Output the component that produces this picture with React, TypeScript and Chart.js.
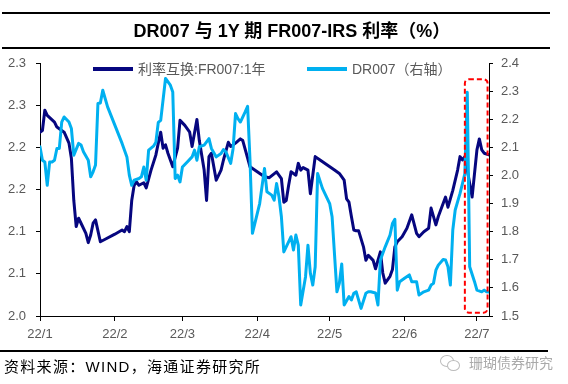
import React, { useEffect, useRef } from "react";
import { Chart, registerables } from "chart.js";

Chart.register(...registerables);

// ---- data ----
const irsDates = [
  "01-04","01-05","01-06","01-07","01-10","01-11","01-13","01-14","01-16","01-17",
  "01-18","01-19","01-20","01-21","01-23","01-24","01-25","01-26","01-27","01-29",
  "01-31","02-04","02-07","02-08","02-09","02-10","02-11","02-12","02-13","02-14",
  "02-16","02-17","02-19","02-21","02-22","02-23","02-24","02-25","02-26","02-28",
  "03-02","03-03","03-05","03-07","03-08","03-10","03-11","03-13","03-14","03-15",
  "03-16","03-18","03-20","03-21","03-23","03-24","03-26","03-28","03-29","04-01",
  "04-04","04-07","04-09","04-12","04-14","04-15","04-16","04-17","04-18","04-20",
  "04-21","04-22","04-23","04-25","04-26","04-28","04-30","05-03","05-06","05-08",
  "05-10","05-11","05-12","05-13","05-14","05-15","05-16","05-18","05-19","05-20",
  "05-22","05-23","05-25","05-26","05-27","05-29","05-30","05-31","06-01","06-03",
  "06-05","06-07","06-09","06-10","06-12","06-14","06-15","06-17","06-18","06-21",
  "06-22","06-24","06-26","06-27","06-28","06-29","07-02","07-04","07-05","07-06",
  "07-07","07-09"
];
const irsValues = [
  2.218,2.220,2.244,2.238,2.230,2.224,2.220,2.218,2.205,2.187,
  2.137,2.106,2.116,2.110,2.098,2.087,2.096,2.110,2.114,2.088,
  2.091,2.097,2.102,2.100,2.106,2.100,2.137,2.155,2.159,2.155,
  2.158,2.152,2.173,2.191,2.205,2.218,2.199,2.203,2.193,2.177,
  2.199,2.232,2.226,2.218,2.201,2.233,2.208,2.173,2.137,2.189,
  2.193,2.161,2.173,2.185,2.206,2.201,2.205,2.210,2.208,2.177,
  2.171,2.165,2.164,2.171,2.163,2.135,2.137,2.155,2.171,2.167,
  2.181,2.173,2.176,2.173,2.145,2.189,2.185,2.179,2.173,2.169,
  2.161,2.139,2.135,2.118,2.102,2.101,2.101,2.082,2.066,2.072,
  2.066,2.056,2.076,2.051,2.039,2.047,2.055,2.082,2.088,2.094,
  2.104,2.120,2.098,2.094,2.100,2.104,2.128,2.108,2.118,2.141,
  2.129,2.149,2.173,2.189,2.185,2.189,2.141,2.197,2.210,2.197,
  2.193,2.191
];
const drDates = [
  "01-04","01-05","01-06","01-07","01-08","01-09","01-10","01-11","01-12","01-13",
  "01-14","01-16","01-17","01-18","01-20","01-21","01-22","01-24","01-25","01-26",
  "01-27","01-28","01-29","01-30","02-01","02-04","02-07","02-09","02-10","02-11",
  "02-12","02-14","02-15","02-16","02-17","02-18","02-20","02-21","02-22","02-23",
  "02-25","02-27","02-28","03-01","03-02","03-03","03-04","03-06","03-08","03-09",
  "03-10","03-11","03-13","03-15","03-16","03-18","03-20","03-21","03-22","03-24",
  "03-25","03-26","03-27","03-28","03-30","03-31","04-01","04-02","04-05","04-07",
  "04-08","04-10","04-11","04-12","04-13","04-14","04-15","04-16","04-18","04-19",
  "04-20","04-21","04-22","04-24","04-25","04-26","04-27","04-28","04-29","05-01",
  "05-04","05-05","05-07","05-08","05-09","05-10","05-12","05-13","05-14","05-15",
  "05-17","05-19","05-20","05-21","05-23","05-24","05-25","05-27","05-29","05-30",
  "05-31","06-01","06-02","06-04","06-06","06-07","06-09","06-10","06-12","06-14",
  "06-15","06-16","06-17","06-18","06-20","06-21","06-22","06-23","06-24","06-25",
  "06-27","06-28","06-29","06-30","07-01","07-03","07-04","07-06","07-07","07-08",
  "07-09"
];
const drValues = [
  2.102,2.054,2.048,1.965,2.048,2.048,2.054,2.096,2.096,2.190,
  2.208,2.190,2.167,2.072,2.114,2.108,2.084,2.054,1.995,2.013,
  2.037,2.256,2.258,2.303,2.244,2.179,2.114,2.066,2.001,1.965,
  1.983,1.989,1.995,2.030,1.983,2.090,2.104,2.118,2.189,2.196,
  2.345,2.321,2.297,1.989,2.001,1.977,2.030,2.048,2.066,2.090,
  2.054,2.102,2.108,2.131,2.096,2.066,2.078,2.092,2.084,2.043,
  2.096,2.220,2.202,2.190,2.226,2.246,2.054,1.794,1.900,2.025,
  1.942,1.930,1.912,1.971,1.924,1.853,1.728,1.746,1.782,1.735,
  1.788,1.752,1.539,1.640,1.752,1.652,1.610,1.675,2.007,1.954,
  1.900,1.853,1.586,1.616,1.685,1.539,1.569,1.557,1.581,1.586,
  1.527,1.581,1.586,1.586,1.582,1.539,1.699,1.746,1.788,1.829,
  1.844,1.592,1.622,1.634,1.646,1.622,1.622,1.575,1.586,1.592,
  1.610,1.616,1.663,1.681,1.701,1.699,1.675,1.610,1.806,1.877,
  1.936,1.971,2.007,2.296,1.675,1.622,1.592,1.586,1.592,1.586,
  1.585
];
const seriesNames = ["利率互换:FR007:1年", "DR007（右轴）"];
const axisStart = "01-04";
const axisEnd = "07-09";
const xTickDates = ["01-04", "02-04", "03-04", "04-04", "05-04", "06-04", "07-04"];
const xTickLabels = ["22/1", "22/2", "22/3", "22/4", "22/5", "22/6", "22/7"];
const leftTickValues = [2.0, 2.05, 2.1, 2.15, 2.2, 2.25, 2.3];
const leftTickLabels = ["2.0", "2.1", "2.1", "2.2", "2.2", "2.3", "2.3"];
const rightTickValues = [1.5, 1.6, 1.7, 1.8, 1.9, 2.0, 2.1, 2.2, 2.3, 2.4];
const rightTickLabels = ["1.5", "1.6", "1.7", "1.8", "1.9", "2.0", "2.1", "2.2", "2.3", "2.4"];
const highlightDates = ["06-29", "07-08"];
const highlightRange = [1.512, 2.342];

const titleText = "DR007 与 1Y 期 FR007-IRS 利率（%）";
const sourceText = "资料来源：WIND，海通证券研究所";
const watermarkText = "珊瑚债券研究";

// ---- helpers ----
const dayOf = (md: string) => {
  const [m, d] = md.split("-").map(Number);
  const [m0, d0] = axisStart.split("-").map(Number);
  return (Date.UTC(2022, m - 1, d) - Date.UTC(2022, m0 - 1, d0)) / 86400000;
};

const NAVY = "#06067f";
const SKY = "#00b0f0";
const TICK_COLOR = "#595959";
const TICK_FONT = { family: "'Liberation Sans', Arial, sans-serif", size: 13 };

const insideLegend = {
  id: "insideLegend",
  afterDraw(chart: any, _args: any, opts: any) {
    const ctx = chart.ctx;
    ctx.save();
    chart.data.datasets.forEach((ds: any, i: number) => {
      const p = opts.items[i];
      ctx.strokeStyle = ds.borderColor;
      ctx.lineWidth = opts.lineWidth;
      ctx.lineCap = "butt";
      ctx.beginPath();
      ctx.moveTo(p.x, p.y);
      ctx.lineTo(p.x + opts.sampleWidth, p.y);
      ctx.stroke();
      ctx.fillStyle = opts.color;
      ctx.font = opts.font;
      ctx.textBaseline = "middle";
      ctx.textAlign = "left";
      ctx.fillText(ds.label, p.x + opts.sampleWidth + opts.gap, p.y + 1);
    });
    ctx.restore();
  },
};

const highlightBox = {
  id: "highlightBox",
  afterDatasetsDraw(chart: any) {
    const xs = chart.scales.x;
    const ys = chart.scales.y1;
    const x0 = xs.getPixelForValue(dayOf(highlightDates[0]));
    const x1 = xs.getPixelForValue(dayOf(highlightDates[1])) + 1;
    const yTop = ys.getPixelForValue(highlightRange[1]);
    const yBot = ys.getPixelForValue(highlightRange[0]);
    const ctx = chart.ctx;
    ctx.save();
    ctx.strokeStyle = "#ff0000";
    ctx.lineWidth = 2;
    ctx.setLineDash([5, 3]);
    ctx.beginPath();
    if (ctx.roundRect) ctx.roundRect(x0, yTop, x1 - x0, yBot - yTop, 4);
    else ctx.rect(x0, yTop, x1 - x0, yBot - yTop);
    ctx.stroke();
    ctx.restore();
  },
};

function ChartCanvas() {
  const ref = useRef<HTMLCanvasElement | null>(null);
  useEffect(() => {
    if (!ref.current) return;
    const chart = new Chart(ref.current, {
      type: "line",
      data: {
        datasets: [
          {
            label: seriesNames[0],
            data: irsDates.map((d, i) => ({ x: dayOf(d), y: irsValues[i] })),
            borderColor: NAVY,
            backgroundColor: NAVY,
            borderWidth: 3,
            yAxisID: "y",
            order: 1,
          },
          {
            label: seriesNames[1],
            data: drDates.map((d, i) => ({ x: dayOf(d), y: drValues[i] })),
            borderColor: SKY,
            backgroundColor: SKY,
            borderWidth: 3,
            yAxisID: "y1",
            order: 0,
          },
        ],
      },
      options: {
        responsive: false,
        animation: false,
        devicePixelRatio: 1,
        layout: { padding: { top: 63, left: 0, right: 0, bottom: 0 } },
        elements: {
          point: { radius: 0, hoverRadius: 0 },
          line: { tension: 0, borderJoinStyle: "round", borderCapStyle: "round" },
        },
        plugins: {
          legend: { display: false },
          tooltip: { enabled: false },
          insideLegend: {
            items: [
              { x: 93, y: 69 },
              { x: 307, y: 69 },
            ],
            sampleWidth: 40,
            lineWidth: 4,
            gap: 5,
            color: "#595959",
            font: "14px 'Liberation Sans', 'Noto Sans CJK SC', sans-serif",
          },
        } as any,
        scales: {
          x: {
            type: "linear",
            min: 0,
            max: dayOf(axisEnd),
            afterBuildTicks: (s: any) => {
              s.ticks = xTickDates.map((d) => ({ value: dayOf(d) }));
            },
            afterFit: (s: any) => {
              s.height = 68;
            },
            ticks: {
              autoSkip: false,
              maxRotation: 0,
              color: TICK_COLOR,
              font: TICK_FONT,
              padding: 6,
              callback: (_v: any, i: number) => xTickLabels[i],
            },
            grid: { drawOnChartArea: false, tickLength: 5, color: "#000" },
            border: { color: "#000", width: 1 },
          },
          y: {
            position: "left",
            min: 2.0,
            max: 2.3,
            afterBuildTicks: (s: any) => {
              s.ticks = leftTickValues.map((v) => ({ value: v }));
            },
            afterFit: (s: any) => {
              s.width = 40;
            },
            ticks: {
              color: TICK_COLOR,
              font: TICK_FONT,
              padding: 10,
              callback: (_v: any, i: number) => leftTickLabels[i],
            },
            grid: { drawOnChartArea: false, tickLength: 4, color: "#000" },
            border: { color: "#000", width: 1 },
          },
          y1: {
            position: "right",
            min: 1.5,
            max: 2.4,
            afterBuildTicks: (s: any) => {
              s.ticks = rightTickValues.map((v) => ({ value: v }));
            },
            afterFit: (s: any) => {
              s.width = 79;
            },
            ticks: {
              color: TICK_COLOR,
              font: TICK_FONT,
              padding: 8,
              callback: (_v: any, i: number) => rightTickLabels[i],
            },
            grid: { drawOnChartArea: false, tickLength: 4, color: "#000" },
            border: { color: "#000", width: 1 },
          },
        },
      } as any,
      plugins: [insideLegend, highlightBox],
    });
    return () => chart.destroy();
  }, []);
  return (
    <canvas
      ref={ref}
      width={568}
      height={384}
      style={{ position: "absolute", left: 0, top: 0, width: 568, height: 384, display: "block" }}
    />
  );
}

export default function App() {
  const cjk = "'Liberation Sans', Arial, 'Noto Sans CJK SC', sans-serif";
  return (
    <div
      style={{
        position: "absolute",
        left: 0,
        top: 0,
        width: 568,
        height: 384,
        background: "#fff",
        overflow: "hidden",
        fontFamily: cjk,
      }}
    >
      <ChartCanvas />
      <div style={{ position: "absolute", left: 2, top: 12, width: 548, height: 2, background: "#000" }} />
      <div
        style={{
          position: "absolute",
          left: 0,
          top: 21,
          width: 584,
          textAlign: "center",
          fontWeight: "bold",
          fontSize: 18,
          lineHeight: "20px",
          color: "#000",
          whiteSpace: "nowrap",
        }}
      >
        {titleText}
      </div>
      <div style={{ position: "absolute", left: 2, top: 47, width: 548, height: 2, background: "#000" }} />
      <div style={{ position: "absolute", left: 0, top: 350, width: 548, height: 2, background: "#000" }} />
      <div
        style={{
          position: "absolute",
          left: 4,
          top: 357,
          fontSize: 15,
          lineHeight: "20px",
          letterSpacing: "1.3px",
          color: "#000",
          whiteSpace: "nowrap",
        }}
      >
        {sourceText}
      </div>
      <div
        style={{
          position: "absolute",
          left: 440,
          top: 355,
          width: 20,
          height: 16,
          color: "#bbb",
        }}
      >
        <div style={{ position: "absolute", left: 0, top: 0, width: 12, height: 10, border: "1px solid #bbb", borderRadius: "50%" }} />
        <div style={{ position: "absolute", left: 7, top: 5, width: 11, height: 9, border: "1px solid #bbb", borderRadius: "50%", background: "#fff" }} />
      </div>
      <div
        style={{
          position: "absolute",
          left: 469,
          top: 354,
          fontSize: 14,
          lineHeight: "18px",
          color: "#aaa",
          whiteSpace: "nowrap",
        }}
      >
        {watermarkText}
      </div>
    </div>
  );
}
